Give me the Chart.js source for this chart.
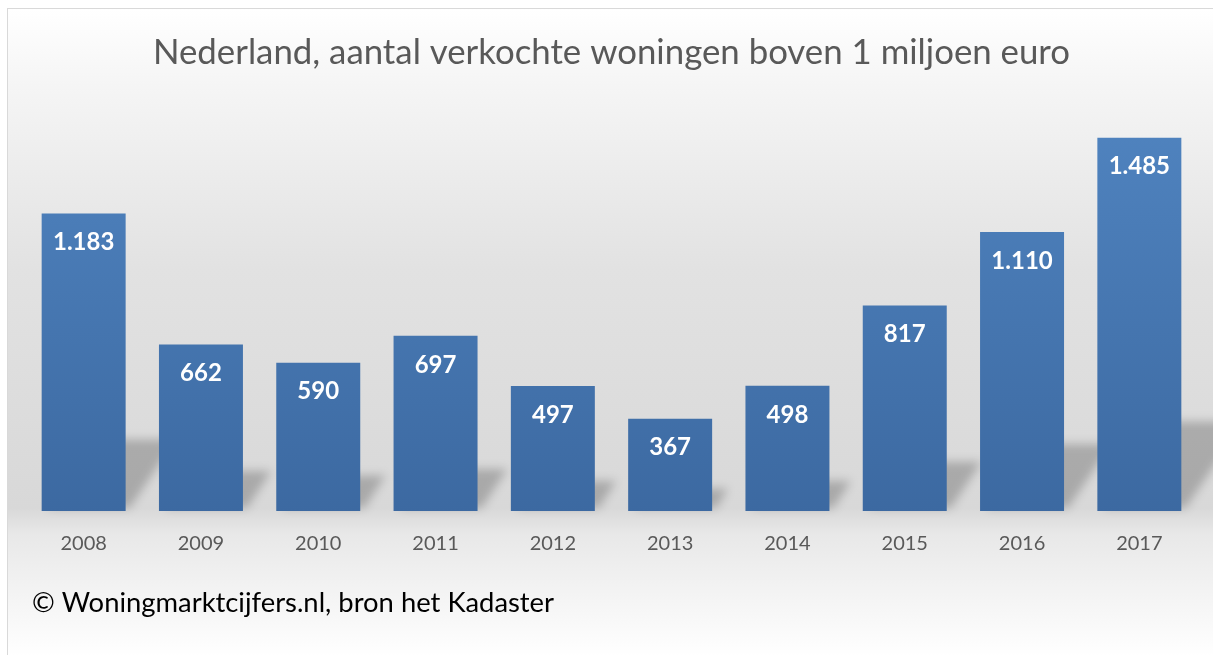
<!DOCTYPE html>
<html>
<head>
<meta charset="utf-8">
<script src="https://cdn.jsdelivr.net/npm/chart.js@4.4.1/dist/chart.umd.min.js"></script>
<style>
  html, body { margin: 0; padding: 0; background: #ffffff; overflow: hidden; }
  #box { position: absolute; left: 7px; top: 8px; width: 1210px; height: 648px; border: 1px solid #d9d9d9; }
  canvas { display: block; }
</style>
</head>
<body>
<div id="box"><canvas id="c" width="1210" height="648"></canvas></div>
<script>
const years = ['2008','2009','2010','2011','2012','2013','2014','2015','2016','2017'];
const sales = [1183, 662, 590, 697, 497, 367, 498, 817, 1110, 1485];
const titleText = 'Nederland, aantal verkochte woningen boven 1 miljoen euro';
const footerText = '\u00A9 Woningmarktcijfers.nl, bron het Kadaster';

const FONT = 'Lato, "Open Sans", sans-serif';

function fmt(v) {
  const s = String(Math.round(v));
  return s.replace(/\B(?=(\d{3})+(?!\d))/g, '.');
}

const bgPlugin = {
  id: 'bg',
  beforeDraw(chart) {
    const { ctx, width, height } = chart;
    const g = ctx.createLinearGradient(0, 0, 0, height);
    g.addColorStop(0.00, '#ffffff');
    g.addColorStop(0.12, '#f5f5f5');
    g.addColorStop(0.40, '#e2e2e2');
    g.addColorStop(0.77, '#d8d8d8');
    g.addColorStop(0.81, '#e8e8e8');
    g.addColorStop(0.89, '#f2f2f2');
    g.addColorStop(1.00, '#ffffff');
    ctx.save();
    ctx.fillStyle = g;
    ctx.fillRect(0, 0, width, height);
    ctx.restore();
  },
  beforeDatasetsDraw(chart) {
    const { ctx } = chart;
    const meta = chart.getDatasetMeta(0);
    ctx.save();
    ctx.filter = 'blur(5px)';
    ctx.fillStyle = 'rgba(0,0,0,0.22)';
    meta.data.forEach(bar => {
      const p = bar.getProps(['x', 'y', 'base', 'width'], true);
      const h = p.base - p.y;
      const l = p.x - p.width / 2, r = p.x + p.width / 2;
      const dx = h * 0.17, dy = h * 0.24;
      ctx.beginPath();
      ctx.moveTo(l + 6, p.base - 3);
      ctx.lineTo(r + 4, p.base - 3);
      ctx.lineTo(r + dx, p.base - dy);
      ctx.lineTo(l + dx, p.base - dy);
      ctx.closePath();
      ctx.fill();
    });
    ctx.restore();
  },
  afterDatasetsDraw(chart) {
    const { ctx } = chart;
    const meta = chart.getDatasetMeta(0);
    ctx.save();
    ctx.fillStyle = '#ffffff';
    ctx.font = 'bold 24px ' + FONT;
    ctx.textAlign = 'center';
    ctx.textBaseline = 'middle';
    meta.data.forEach((bar, i) => {
      const p = bar.getProps(['x', 'y'], true);
      ctx.fillText(fmt(sales[i]), p.x, p.y + 29);
    });
    ctx.restore();
  },
  afterDraw(chart) {
    const { ctx } = chart;
    ctx.save();
    ctx.fillStyle = '#000000';
    ctx.font = '27.4px ' + FONT;
    ctx.textAlign = 'left';
    ctx.textBaseline = 'middle';
    ctx.fillText(footerText, 24, 594);
    ctx.restore();
  }
};

const ctx = document.getElementById('c').getContext('2d');
new Chart(ctx, {
  type: 'bar',
  data: {
    labels: years,
    datasets: [{
      data: sales,
      backgroundColor: (c) => {
        const chart = c.chart;
        const a = chart.chartArea;
        if (!a) return '#4a7ab5';
        const g = chart.ctx.createLinearGradient(0, a.top, 0, a.bottom);
        g.addColorStop(0, '#5084c0');
        g.addColorStop(1, '#3c69a1');
        return g;
      },
      borderWidth: 0,
      categoryPercentage: 1.0,
      barPercentage: 0.716
    }]
  },
  options: {
    responsive: false,
    animation: false,
    layout: { padding: { left: 17, right: 20, top: 0, bottom: 80 } },
    plugins: {
      legend: { display: false },
      tooltip: { enabled: false },
      title: {
        display: true,
        text: titleText,
        color: '#595959',
        font: { family: FONT, size: 34.8, weight: 'normal', lineHeight: 1.2 },
        padding: { top: 23, bottom: 35 }
      }
    },
    scales: {
      x: {
        grid: { display: false, drawTicks: false },
        border: { display: false },
        ticks: { color: '#595959', font: { family: FONT, size: 20 }, padding: 21 }
      },
      y: {
        display: false,
        min: 0,
        max: 1600
      }
    }
  },
  plugins: [bgPlugin]
});
</script>
</body>
</html>
